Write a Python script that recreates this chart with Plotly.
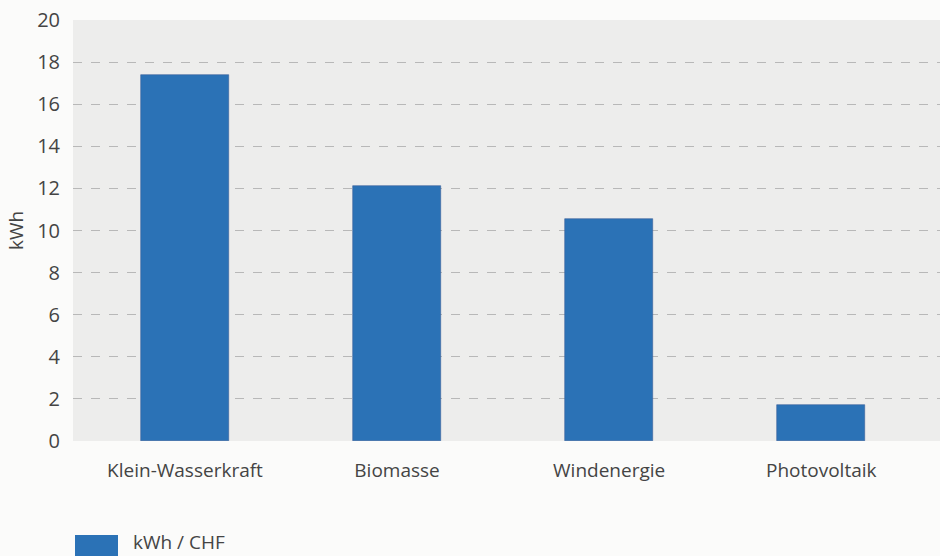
import plotly.graph_objects as go

# Energy yield per franc invested, by technology
categories = ["Klein-Wasserkraft", "Biomasse", "Windenergie", "Photovoltaik"]
kwh_per_chf = [17.4, 12.1, 10.55, 1.7]
y_ticks = [0, 2, 4, 6, 8, 10, 12, 14, 16, 18, 20]
series_name = "kWh / CHF"

BAR_COLOR = "#2b72b6"
TEXT_COLOR = "#444444"
FONT = "Open Sans, Noto Sans, sans-serif"

# plot area geometry in pixels
PLOT_LEFT, PLOT_TOP, PLOT_BOTTOM, PLOT_W, PLOT_H = 73, 20, 441, 867, 421


def px_x(x):
    return (x - PLOT_LEFT) / PLOT_W


def px_y(y):
    return (PLOT_BOTTOM - y) / PLOT_H


fig = go.Figure()
fig.add_trace(go.Bar(
    x=list(range(len(categories))),
    y=kwh_per_chf,
    name=series_name,
    width=0.415,
    marker=dict(color=BAR_COLOR, line=dict(color="#3a5f9a", width=0.6)),
    showlegend=False,
))

fig.update_layout(
    width=940, height=556,
    margin=dict(l=73, r=0, t=20, b=115),
    paper_bgcolor="#fbfbfa",
    plot_bgcolor="#ededec",
    font=dict(family=FONT, color=TEXT_COLOR, size=19),
    bargap=0,
    xaxis=dict(
        range=[-0.528, 3.56],
        tickmode="array",
        tickvals=list(range(len(categories))),
        ticktext=categories,
        showgrid=False, zeroline=False, showline=False,
        ticks="", ticklabelstandoff=16,
        tickfont=dict(size=19, color=TEXT_COLOR),
    ),
    yaxis=dict(
        range=[0, 20],
        tickmode="array",
        tickvals=y_ticks,
        showgrid=True, gridcolor="#b8b8b8", griddash="dash", gridwidth=1,
        zeroline=False, showline=False,
        ticks="", ticklabelstandoff=12,
        tickfont=dict(size=20, color=TEXT_COLOR),
        title=dict(text="kWh", font=dict(size=19, color=TEXT_COLOR), standoff=8),
    ),
)

# Legend swatch and label below the chart
fig.add_shape(type="rect", xref="paper", yref="paper",
              x0=px_x(75), x1=px_x(118),
              y0=px_y(535), y1=px_y(560),
              fillcolor=BAR_COLOR, line=dict(width=0))
fig.add_annotation(xref="paper", yref="paper",
                   x=px_x(131), y=px_y(542),
                   xanchor="left", yanchor="middle", showarrow=False,
                   text=series_name, font=dict(size=19, color=TEXT_COLOR))

fig.write_html("out.html")
